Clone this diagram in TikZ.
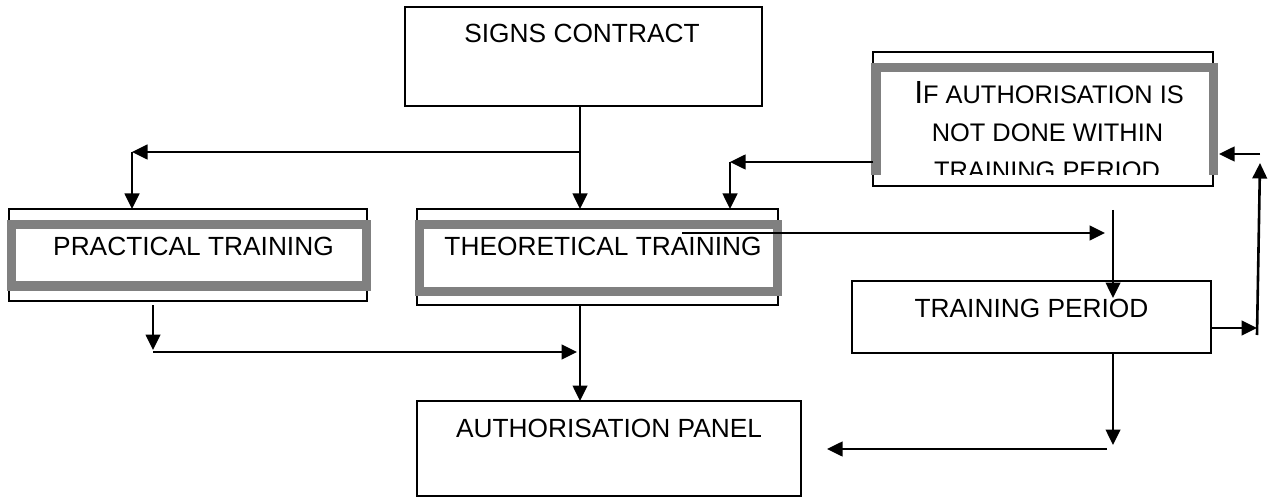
\documentclass[tikz,border=0pt]{standalone}
\usepackage{fontspec}
\setmainfont{Liberation Sans}
\usetikzlibrary{arrows.meta}
\definecolor{framegray}{HTML}{808080}
\begin{document}
\begin{tikzpicture}[x=1pt,y=-1pt,
  box/.style={draw=black, line width=1.7pt, inner sep=0pt, outer sep=0pt},
  graybox/.style={draw=framegray, line width=9.5pt, inner sep=0pt, outer sep=0pt},
  lbl/.style={inner sep=0pt, outer sep=0pt, anchor=base, font=\fontsize{26.3}{30}\selectfont},
  sclbl/.style={inner sep=0pt, outer sep=0pt, anchor=base, font=\fontsize{25.4}{30}\selectfont},
  conn/.style={line width=2.6pt},
  arr/.style={conn, -{Triangle[length=15.5pt,width=14.5pt]}}]
\useasboundingbox (0,0) rectangle (1269,497);
\fill[white] (0,0) rectangle (1269,497);

% boxes
\node[box, minimum width=357pt, minimum height=99pt] (signs) at (583.5,56.5) {};
\node[box, minimum width=358pt, minimum height=92pt] (pracO) at (188,255) {};
\node[graybox, minimum width=355pt, minimum height=61.5pt] (pracG) at (189,255.25) {};
\node[box, minimum width=361pt, minimum height=96pt] (theoO) at (597.5,257) {};
\node[graybox, minimum width=358pt, minimum height=67pt] (theoG) at (598.5,258) {};
\node[box, minimum width=340pt, minimum height=134pt] (ifO) at (1043,119) {};
\node[box, minimum width=359pt, minimum height=72pt] (period) at (1031.5,317) {};
\node[box, minimum width=384pt, minimum height=95pt] (auth) at (609,448.5) {};

% labels
\node[lbl] (signsT) at (582,43) {SIGNS CONTRACT};
\node[lbl] (pracT) at (193.5,255) {PRACTICAL TRAINING};
\node[lbl] (theoT) at (603,255) {THEORETICAL TRAINING};
\node[lbl] (periodT) at (1031.5,317) {TRAINING PERIOD};
\node[lbl] (authT) at (609,437) {AUTHORISATION PANEL};
\begin{scope}
  \clip (873,52) rectangle (1213,175);
  \fill[white] (878,70) rectangle (1210,175);
  \node[sclbl] (ifT1) at (1049,104) {{\fontsize{32}{36}\selectfont I}F AUTHORISATION IS};
  \node[sclbl] (ifT2) at (1047.5,142) {NOT DONE WITHIN};
  \node[sclbl] (ifT3) at (1047,180) {TRAINING PERIOD};
\end{scope}
\draw[draw=framegray, line width=9.5pt, line join=miter] (876,175) -- (876,67.5) -- (1213.5,67.5) -- (1213.5,175);

% coordinates
\coordinate (j1) at (580,152);
\coordinate (c1) at (132,152);
\coordinate (c2) at (730,162);
\coordinate (c3) at (682,233);
\coordinate (c4) at (1105,233);
\coordinate (c5) at (1113,210);
\coordinate (c5b) at (1113,298);
\coordinate (c6) at (1257,328);
\coordinate (c7) at (1257,335);
\coordinate (c8) at (1260,163);
\coordinate (c9) at (1260,154);
\coordinate (c9b) at (1219,154);
\coordinate (c10) at (1113,445);
\coordinate (c11) at (1107,449);
\coordinate (c12) at (827,449);
\coordinate (c13a) at (153,305);
\coordinate (c13) at (153,350);
\coordinate (c14) at (153,352);
\coordinate (c15) at (577,352);

% connectors
\draw[conn] (signs.south -| j1) -- (j1);
\draw[arr] (j1) -- (theoO.north -| j1);
\draw[arr] (j1) -- (c1);
\draw[arr] (c1) -- (pracO.north -| c1);
\draw[arr] (ifO.west |- c2) -- (c2);
\draw[arr] (c2) -- (theoO.north -| c2);
\draw[arr] (c3) -- (c4);
\draw[arr] (c5) -- (c5b);
\draw[arr] (period.east |- c6) -- (c6);
\draw[arr] (c7) -- (c8);
\draw[arr] (c9) -- (c9b);
\draw[arr] (period.south -| c10) -- (c10);
\draw[arr] (c11) -- (c12);
\draw[arr] (c13a) -- (c13);
\draw[arr] (c14) -- (c15);
\draw[arr] (theoO.south -| j1) -- (auth.north -| j1);
\end{tikzpicture}
\end{document}
